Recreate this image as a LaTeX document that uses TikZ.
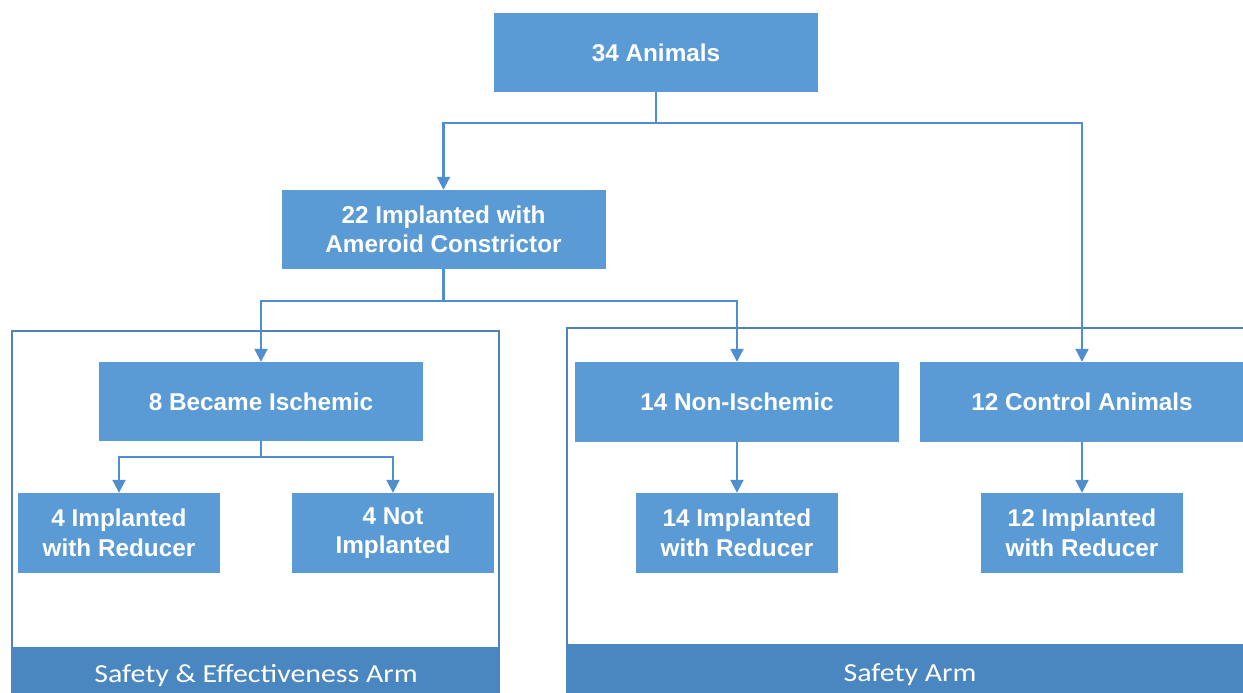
\documentclass[tikz,border=0pt]{standalone}
\usepackage{fontspec}
\setmainfont{Liberation Sans}
\newfontfamily\boxfont{Liberation Sans}
\newfontfamily\bandfont[FakeStretch=1.15]{Carlito}
\usetikzlibrary{arrows.meta}
\definecolor{boxblue}{HTML}{5B9BD5}
\definecolor{bandblue}{HTML}{4A86BF}
\definecolor{frameblue}{HTML}{5182B8}
\definecolor{lineblue}{HTML}{4F8FCF}
\tikzset{
  box/.style={fill=boxblue, draw=none, text=white, align=center,
    font=\boxfont\bfseries\fontsize{24.3}{29.5}\selectfont, inner sep=0pt,
    minimum height=79pt},
  wide/.style={box, minimum width=324pt},
  narrow/.style={box, minimum width=202pt, minimum height=80pt},
  conn/.style={draw=lineblue, line width=2.1pt, -{Triangle[width=13pt,length=13pt]}},
  plain/.style={draw=lineblue, line width=2.1pt},
  armframe/.style={draw=frameblue, line width=1.8pt},
  armband/.style={fill=bandblue, draw=none},
  bandtext/.style={text=white, font=\bandfont\fontsize{26}{30}\selectfont, anchor=base, inner sep=0pt}
}
\begin{document}
\begin{tikzpicture}[x=1pt,y=-1pt]
\useasboundingbox (0,0) rectangle (1243,693);
\fill[white] (0,0) rectangle (1243,693);
% arm frames
\draw[armframe] (12,693) -- (12,331) -- (499,331) -- (499,693);
\fill[armband] (11.1,647) rectangle (499.9,693);
\draw[armframe] (567,693) -- (567,328) -- (1260,328);
\fill[armband] (566.1,644) rectangle (1260,693);
\node[bandtext] (bandL) at (256,682) {Safety \& Effectiveness Arm};
\node[bandtext] (bandR) at (910,681) {Safety Arm};
% boxes
\node[wide] (a34) at (656,52.5) {34 Animals};
\node[wide] (a22) at (443.5,229.5) {22 Implanted with\\Ameroid Constrictor};
\node[wide] (isch) at (261,401.5) {8 Became Ischemic};
\node[wide, minimum height=80pt] (nonisch) at (737,402) {14 Non-Ischemic};
\node[wide, minimum height=80pt] (ctrl) at (1082,402) {12 Control Animals};
\node[narrow] (imp4) at (119,533) {4 Implanted\\with Reducer};
\node[narrow] (not4) at (393,533) {4 Not\\Implanted};
\node[narrow] (imp14) at (737,533) {14 Implanted\\with Reducer};
\node[narrow] (imp12) at (1082,533) {12 Implanted\\with Reducer};
% junction coordinates
\coordinate (j1) at (656,123);
\coordinate (j2) at (443.5,301);
\coordinate (j3) at (261,457);
% connectors
\draw[plain] (a34.south) -- (j1);
\draw[conn] (j1) -| (a22.north);
\draw[conn] (j1) -| (ctrl.north);
\draw[plain] (a22.south) -- (j2);
\draw[conn] (j2) -| (isch.north);
\draw[conn] (j2) -| (nonisch.north);
\draw[plain] (isch.south) -- (j3);
\draw[conn] (j3) -| (imp4.north);
\draw[conn] (j3) -| (not4.north);
\draw[conn] (nonisch.south) -- (imp14.north);
\draw[conn] (ctrl.south) -- (imp12.north);
\end{tikzpicture}
\end{document}
